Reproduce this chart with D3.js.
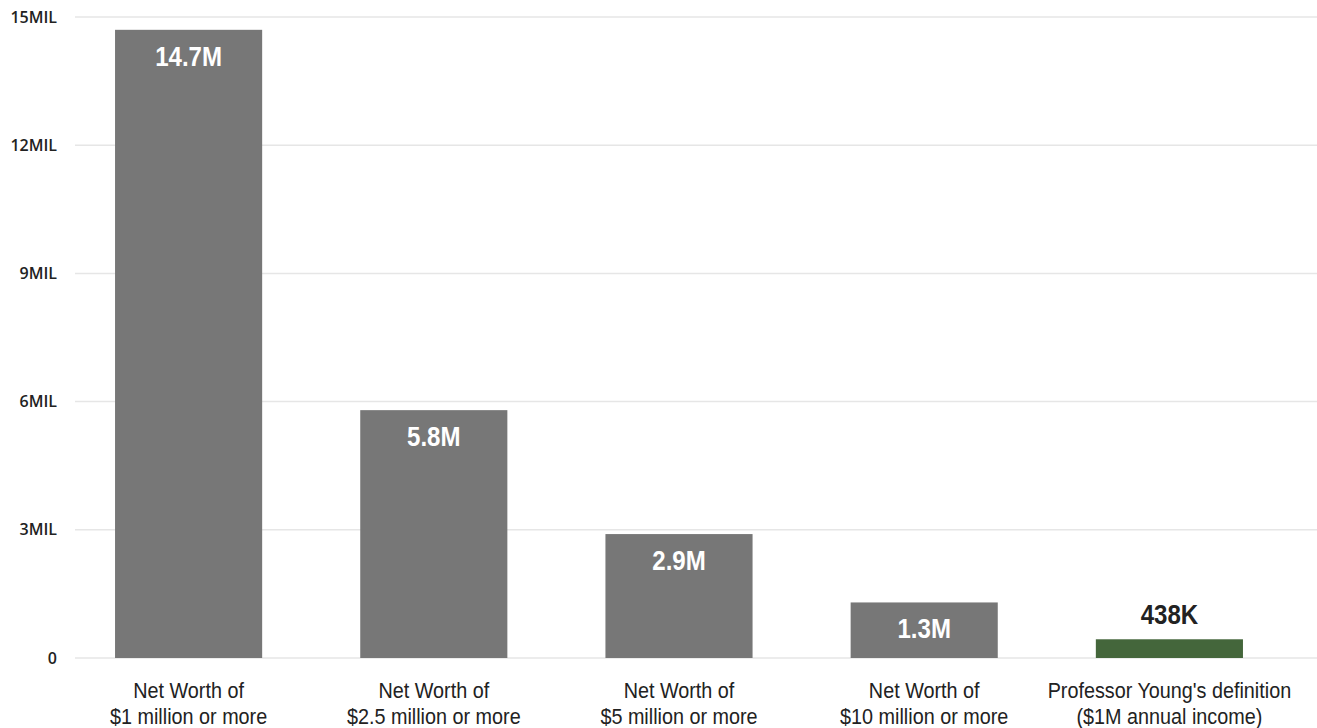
<!DOCTYPE html>
<html>
<head>
<meta charset="utf-8">
<script src="https://cdn.jsdelivr.net/npm/d3@7"></script>
<style>
  body { margin: 0; background: #fff; }
</style>
</head>
<body>
<div id="chart"></div>
<script>
// Data
const categories = [
    ['Net Worth of', '$1 million or more'],
    ['Net Worth of', '$2.5 million or more'],
    ['Net Worth of', '$5 million or more'],
    ['Net Worth of', '$10 million or more'],
    ["Professor Young's definition", '($1M annual income)']
];
const values = [14.7, 5.8, 2.9, 1.3, 0.438];
const valueLabels = ['14.7M', '5.8M', '2.9M', '1.3M', '438K'];
const tickValues = [0, 3, 6, 9, 12, 15];
const tickLabels = ['0', '3MIL', '6MIL', '9MIL', '12MIL', '15MIL'];

const width = 1317, height = 728;
const colors = { gray: '#777777', green: '#44663b' };
const font = '"Liberation Sans", Arial, sans-serif';

const svg = d3.select('#chart').append('svg')
    .attr('width', width)
    .attr('height', height);

const x = d3.scaleBand()
    .domain(d3.range(categories.length))
    .range([66, 1292])
    .paddingInner(0.4)
    .paddingOuter(0.2);

const y = d3.scaleLinear()
    .domain([0, 15])
    .range([658, 17]);

const last = values.length - 1;
const cx = i => x(i) + x.bandwidth() / 2;

// Gridlines
svg.append('g')
    .selectAll('line')
    .data(tickValues)
    .enter().append('line')
    .attr('x1', 75)
    .attr('x2', width)
    .attr('y1', d => y(d))
    .attr('y2', d => y(d))
    .attr('stroke', '#e6e6e6')
    .attr('stroke-width', 1.5);

// Y axis labels
const yAxis = svg.append('g')
    .attr('transform', 'translate(57,0)')
    .call(d3.axisLeft(y).tickValues(tickValues).tickSize(0).tickPadding(0)
        .tickFormat((d, i) => tickLabels[i]));
yAxis.select('.domain').remove();
yAxis.selectAll('text')
    .attr('font-family', '"Open Sans", sans-serif')
    .attr('font-weight', 600)
    .attr('font-size', 16)
    .attr('fill', '#222');

// Bars
svg.selectAll('.bar')
    .data(values)
    .enter().append('rect')
    .attr('class', 'bar')
    .attr('x', (d, i) => x(i))
    .attr('y', d => y(d))
    .attr('width', x.bandwidth())
    .attr('height', d => y(0) - y(d))
    .attr('fill', (d, i) => i === last ? colors.green : colors.gray);

// Value labels (condensed look via horizontal scaling)
svg.selectAll('.val')
    .data(values)
    .enter().append('text')
    .attr('class', 'val')
    .attr('transform', (d, i) => {
        const ty = i === last ? y(d) - 15 : y(d) + 36;
        return `translate(${cx(i)},${ty}) scale(0.86,1)`;
    })
    .attr('text-anchor', 'middle')
    .attr('font-family', font)
    .attr('font-weight', 'bold')
    .attr('font-size', 28)
    .attr('fill', (d, i) => i === last ? '#222' : '#fff')
    .text((d, i) => valueLabels[i]);

// Category labels
const cat = svg.selectAll('.cat')
    .data(categories)
    .enter().append('text')
    .attr('class', 'cat')
    .attr('transform', (d, i) => `translate(${cx(i)},0) scale(0.9,1)`)
    .attr('text-anchor', 'middle')
    .attr('font-family', font)
    .attr('font-size', 22)
    .attr('fill', '#222');

cat.selectAll('tspan')
    .data(d => d)
    .enter().append('tspan')
    .attr('x', 0)
    .attr('y', (d, j) => 698 + j * 26)
    .text(d => d);
</script>
</body>
</html>
